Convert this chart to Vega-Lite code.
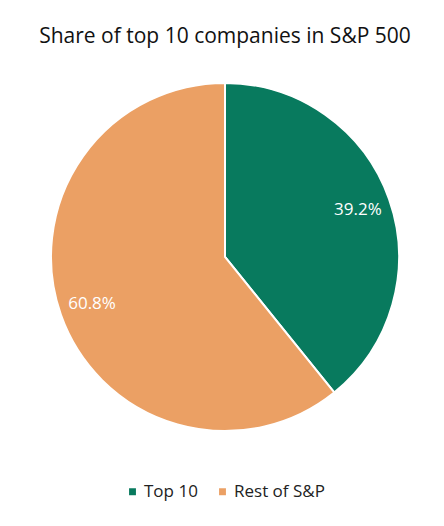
{
  "$schema": "https://vega.github.io/schema/vega-lite/v6.json",
  "width": 438,
  "height": 360,
  "padding": {"left": 6, "right": 0, "top": 26, "bottom": 10},
  "background": "white",
  "title": {
    "text": "Share of top 10 companies in S&P 500",
    "font": "Open Sans",
    "fontSize": 21,
    "fontWeight": "normal",
    "color": "#111111",
    "anchor": "middle",
    "offset": 30
  },
  "data": {
    "values": [
      {"category": "Top 10", "share": 39.2, "label": "39.2%"},
      {"category": "Rest of S&P", "share": 60.8, "label": "60.8%"}
    ]
  },
  "encoding": {
    "theta": {"field": "share", "type": "quantitative", "stack": true},
    "order": {"field": "share", "type": "quantitative", "sort": "ascending"}
  },
  "layer": [
    {
      "mark": {"type": "arc", "outerRadius": 174, "stroke": "white", "strokeWidth": 2},
      "encoding": {
        "color": {
          "field": "category",
          "type": "nominal",
          "scale": {"domain": ["Top 10", "Rest of S&P"], "range": ["#087a5e", "#eba064"]},
          "legend": {
            "title": null,
            "orient": "none",
            "legendX": 118,
            "legendY": 406,
            "direction": "horizontal",
            "symbolType": "square",
            "symbolSize": 70,
            "symbolOffset": 0,
            "labelFont": "Open Sans",
            "labelFontSize": 17,
            "labelColor": "#222222",
            "labelOffset": 3,
            "columnPadding": 16
          }
        }
      }
    },
    {
      "mark": {"type": "text", "radius": 141, "font": "Open Sans", "fontSize": 17, "color": "white"},
      "encoding": {"text": {"field": "label"}}
    }
  ],
  "config": {"view": {"stroke": null}}
}
